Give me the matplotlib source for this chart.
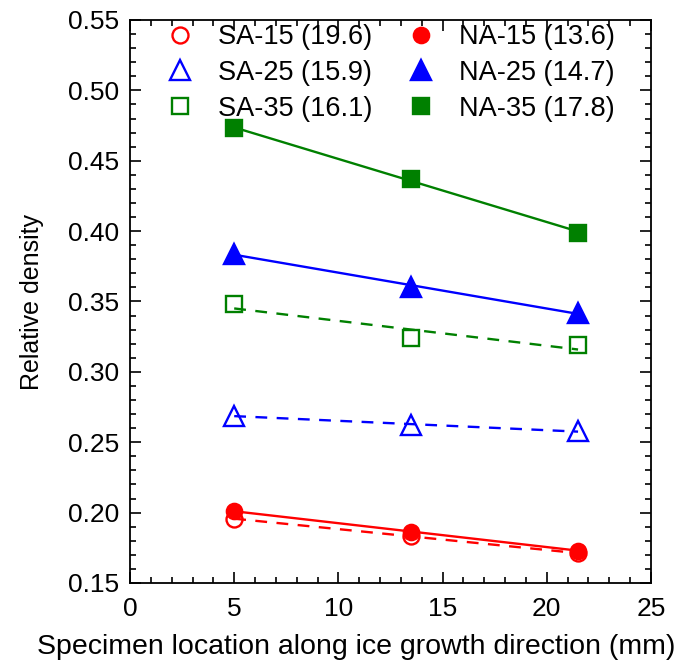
import numpy as np
import matplotlib
matplotlib.use("Agg")
import matplotlib.pyplot as plt
from matplotlib.ticker import MultipleLocator, FormatStrFormatter

plt.rcParams['font.family'] = ['Liberation Sans', 'DejaVu Sans']

x = [5, 13.5, 21.5]
labels = ["SA-15 (19.6)", "SA-25 (15.9)", "SA-35 (16.1)", "NA-15 (13.6)", "NA-25 (14.7)", "NA-35 (17.8)"]
sa15 = [0.1955, 0.1835, 0.171]
sa25 = [0.269, 0.262, 0.258]
sa35 = [0.348, 0.324, 0.319]
na15 = [0.201, 0.1865, 0.173]
na25 = [0.384, 0.360, 0.342]
na35 = [0.473, 0.437, 0.399]

fig = plt.figure(figsize=(6.85, 6.65), dpi=100)
ax = fig.add_axes([130 / 685, 82 / 665, 521 / 685, 563 / 665])

series = [
    (sa15, 'red', 'o', False, '--', 11.5),
    (sa25, 'blue', '^', False, '--', 14),
    (sa35, 'green', 's', False, '--', 11),
    (na15, 'red', 'o', True, '-', 11),
    (na25, 'blue', '^', True, '-', 15),
    (na35, 'green', 's', True, '-', 12),
]
xa = np.array(x)
handles = []
for (y, c, m, filled, ls, ms), lab in zip(series, labels):
    k, b = np.polyfit(xa, y, 1)
    if ls == '--':
        ax.plot(xa, k * xa + b, color=c, lw=1.7, ls=(0, (5, 4)))
    else:
        ax.plot(xa, k * xa + b, color=c, lw=1.7, ls='-')
    h, = ax.plot(xa, y, ls='none', marker=m, ms=ms, mec=c, mfc=c if filled else 'none',
                 mew=1.7, label=lab)
    handles.append(h)

ax.set_xlim(0, 25)
ax.set_ylim(0.15, 0.55)
ax.xaxis.set_major_locator(MultipleLocator(5))
ax.xaxis.set_minor_locator(MultipleLocator(1))
ax.yaxis.set_major_locator(MultipleLocator(0.05))
ax.yaxis.set_minor_locator(MultipleLocator(0.01))
ax.yaxis.set_major_formatter(FormatStrFormatter('%.2f'))
ax.tick_params(which='both', direction='in', top=True, right=True, labelsize=19, width=1.2)
ax.tick_params(which='major', length=8, pad=8)
ax.tick_params(axis='x', which='major', pad=10)
ax.tick_params(which='minor', length=4)
for s in ax.spines.values():
    s.set_linewidth(1.3)
ax.set_xlabel("Specimen location along ice growth direction (mm)", fontsize=20.5)
ax.xaxis.set_label_coords(0.435, -0.09)
ax.set_ylabel("Relative density", fontsize=18)
ax.yaxis.set_label_coords(-0.165, 0.5)

ax.legend(handles=handles, ncol=2, frameon=False, loc='upper left', bbox_to_anchor=(0.049, 1.012),
          fontsize=19.5, handlelength=1.0, handletextpad=0.9, columnspacing=1.3, labelspacing=0.36,
          borderaxespad=0.0)

fig.savefig("out.png", dpi=100)
